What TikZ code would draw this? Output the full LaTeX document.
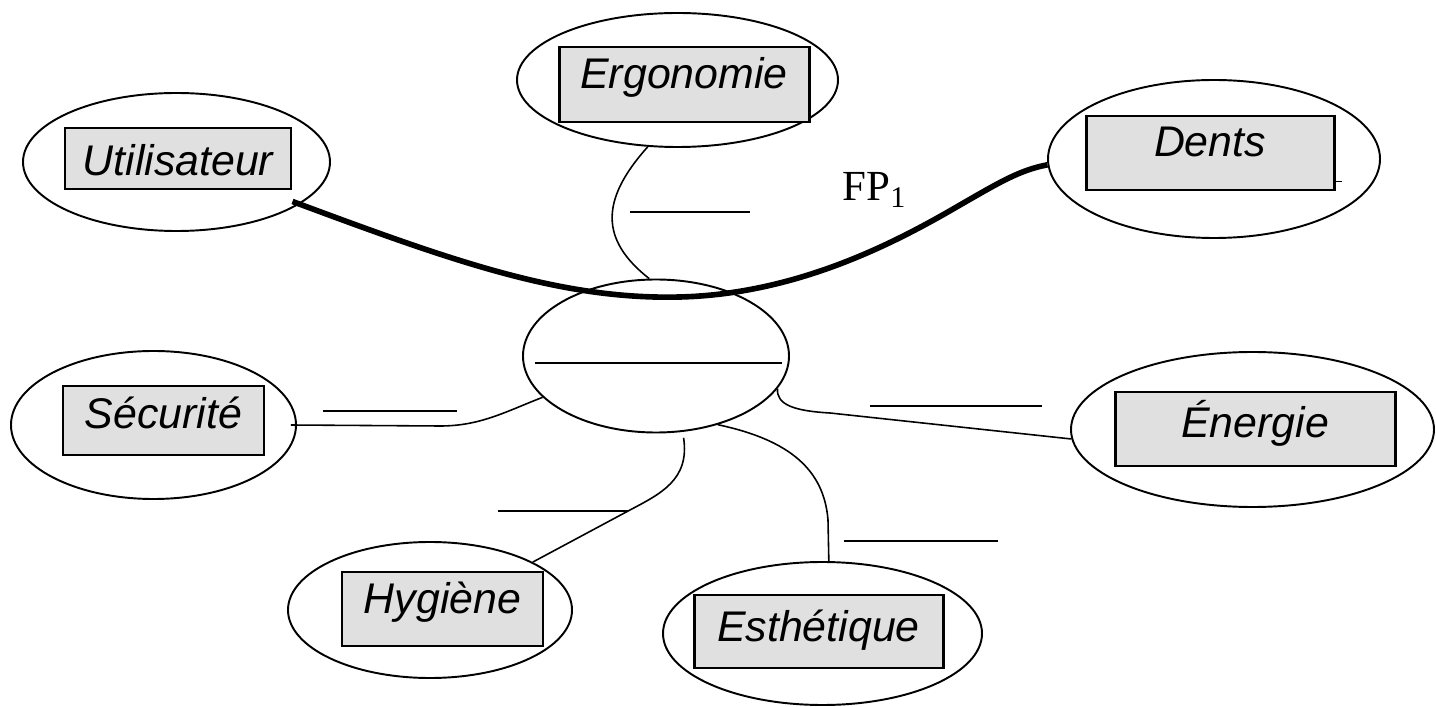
\documentclass[tikz,border=0pt]{standalone}
\usepackage{fontspec}
\setmainfont{Liberation Serif}
\newfontfamily\arialfont{Liberation Sans}
\usetikzlibrary{shapes.geometric,positioning}
\definecolor{fondcase}{RGB}{224,224,224}
\tikzset{
    bulle/.style = {draw, ellipse, line width = 0.55pt, inner sep = 0pt},
    case/.style = {draw, fill = fondcase, line width = 0.85pt, inner sep = 0pt,
        text height = 3.1mm, font = \arialfont\itshape\fontsize{12.2}{14}\selectfont},
    lien/.style = {line width = 0.45pt},
    trait/.style = {line width = 0.55pt},
}
\begin{document}
\begin{tikzpicture}[x = 0.1mm, y = -0.1mm]
            \useasboundingbox (0,0) rectangle (1436,707);
            %画出中心椭圆和横线
            \node[bulle, minimum width = 26.6mm, minimum height = 15.3mm] (centre) at (656,356) {};
            \draw[trait] (535,363) -- (782,363);

            %画出外围椭圆
            \node[bulle, minimum width = 30.7mm, minimum height = 13.8mm] (eUtil) at (176.5,162) {};
            \node[bulle, minimum width = 32.1mm, minimum height = 13.4mm] (eErgo) at (677.5,80) {};
            \node[bulle, minimum width = 33.2mm, minimum height = 15.8mm] (eDents) at (1214,159) {};
            \node[bulle, minimum width = 28.5mm, minimum height = 14.8mm] (eSecu) at (153.5,425) {};
            \node[bulle, minimum width = 36.3mm, minimum height = 15.5mm] (eEner) at (1252.5,429.5) {};
            \node[bulle, minimum width = 28.4mm, minimum height = 13.6mm] (eHyg) at (430,610) {};
            \node[bulle, minimum width = 31.9mm, minimum height = 14.3mm] (eEsth) at (822.5,633.5) {};

            %画出灰色方框和文字
            \node[case, minimum width = 22.6mm, minimum height = 6.1mm, text height = 3.5mm] (rUtil) at (178,158.5) {Utilisateur};
            \node[case, minimum width = 25.0mm, minimum height = 7.5mm, text depth = 2.2mm] (rErgo) at (684,84.5) {Ergonomie};
            \node[case, minimum width = 24.8mm, minimum height = 7.4mm, text depth = 2.4mm] (rDents) at (1210,153) {Dents};
            \node[case, minimum width = 20.1mm, minimum height = 6.9mm, text depth = 1.4mm] (rSecu) at (163.5,420.5) {Sécurité};
            \node[case, minimum width = 28.0mm, minimum height = 7.4mm, text depth = 1.4mm] (rEner) at (1255,429) {Énergie};
            \node[case, minimum width = 20.1mm, minimum height = 7.4mm, text depth = 2.2mm] (rHyg) at (442.5,609) {Hygiène};
            \node[case, minimum width = 24.9mm, minimum height = 7.3mm, text depth = 1.2mm] (rEsth) at (818.5,631.5) {Esthétique};
            \draw[lien] (rDents.south east) ++(0,1mm) -- ++(0.6mm,0);

            %画出粗线 FP1
            \draw[line width = 1.6pt] ([yshift = -1.1mm]rUtil.south east) .. controls (450,260) and (560,300) .. (680,297)
                .. controls (800,294) and (900,240) .. (960,205) .. controls (1000,182) and (1020,170) .. (eDents.182);
            \node[font = \fontsize{12.2}{14}\selectfont] (fp) at (875,190) {FP\textsubscript{1}};

            %画出其余连线
            \draw[lien] (eErgo.-114) .. controls (600,200) and (600,240) .. (centre.95);
            \draw[lien] ([xshift = -0.6mm]eSecu.east) -- (440,426) .. controls (480,426) and (505,412) .. (centre.200);
            \draw[lien] (centre.345) .. controls (776,405) and (795,411) .. (830,413) -- (eEner.183);
            \draw[lien] ([yshift = -0.6mm]centre.-70) .. controls (690,480) and (660,494) .. (630,510) -- (eHyg.25);
            \draw[lien] (centre.-48) .. controls (790,440) and (824,470) .. (828,520) -- (eEsth.85);

            %画出待填横线
            \draw[trait] (630,212) -- (750,212);
            \draw[trait] (323,411) -- (457,411);
            \draw[trait] (870,406) -- (1042,406);
            \draw[trait] (498,511) -- (628,511);
            \draw[trait] (844,541) -- (998,541);
        \end{tikzpicture}
\end{document}
